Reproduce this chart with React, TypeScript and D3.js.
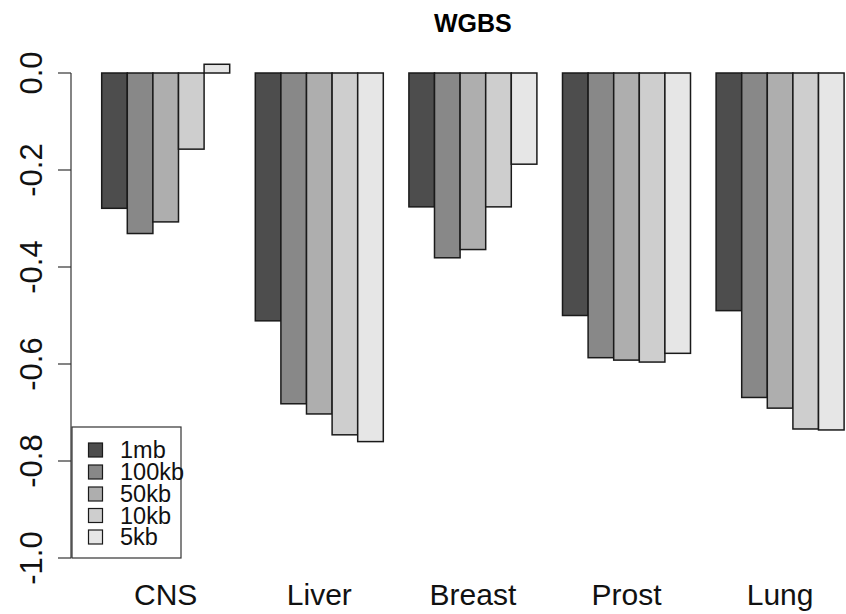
import React from "react";
import * as d3 from "d3";

const title = "WGBS";
const tissues = ["CNS", "Liver", "Breast", "Prost", "Lung"];
const resolutions = ["1mb", "100kb", "50kb", "10kb", "5kb"];
const fills = ["#4D4D4D", "#888888", "#AEAEAE", "#CECECE", "#E6E6E6"];
const v1mb = [-0.279, -0.511, -0.276, -0.5, -0.49];
const v100kb = [-0.331, -0.682, -0.381, -0.587, -0.669];
const v50kb = [-0.307, -0.703, -0.364, -0.592, -0.691];
const v10kb = [-0.157, -0.746, -0.276, -0.596, -0.734];
const v5kb = [0.018, -0.76, -0.188, -0.578, -0.736];
const series = [v1mb, v100kb, v50kb, v10kb, v5kb];
const yTicks = [0, -0.2, -0.4, -0.6, -0.8, -1.0];

const W = 846;
const H = 614;

export default function App() {
  // R barplot units: each group = 1 space + 5 bars
  const x = d3.scaleLinear().domain([-0.16, 31.16]).range([72, 873.8]);
  const y = d3.scaleLinear().domain([0, -1]).range([73, 558]);
  const fontFam = "'Liberation Sans', Arial, Helvetica, sans-serif";

  const bars: any[] = [];
  tissues.forEach((t, gi) => {
    series.forEach((s, si) => {
      const u = gi * 6 + 1 + si;
      const v = s[gi];
      const y0 = y(Math.max(0, v));
      const y1 = y(Math.min(0, v));
      bars.push(
        <rect
          key={`${gi}-${si}`}
          x={x(u)}
          y={y0}
          width={x(u + 1) - x(u)}
          height={y1 - y0}
          fill={fills[si]}
          stroke="#1a1a1a"
          strokeWidth={1.5}
        />
      );
    });
  });

  const legendX = 72;
  const legendY = 427;
  const legendW = 109;
  const legendH = 131;
  const rowY = [450, 472, 494, 515.5, 537];

  return (
    <svg width={W} height={H} style={{ position: "absolute", left: 0, top: 0 }} fontFamily={fontFam}>
      <rect x={0} y={0} width={W} height={H} fill="#fff" />
      <text x={x(15.5)} y={32} textAnchor="middle" fontWeight="bold" fontSize={25} fill="#000">
        {title}
      </text>
      {bars}
      {/* y axis */}
      <line x1={71} x2={71} y1={y(0)} y2={y(-1)} stroke="#333" strokeWidth={1.2} />
      {yTicks.map((t) => (
        <g key={t}>
          <line x1={58} x2={71} y1={y(t)} y2={y(t)} stroke="#333" strokeWidth={1.2} />
          <text
            transform={`translate(42,${y(t)}) rotate(-90)`}
            textAnchor="middle"
            fontSize={31}
            fill="#111"
          >
            {t.toFixed(1)}
          </text>
        </g>
      ))}
      {/* x labels */}
      {tissues.map((t, gi) => (
        <text key={t} x={x(gi * 6 + 3.5)} y={605} textAnchor="middle" fontSize={30} fill="#111">
          {t}
        </text>
      ))}
      {/* legend */}
      <rect x={legendX} y={legendY} width={legendW} height={legendH} fill="#fff" stroke="#333" strokeWidth={1.2} />
      {resolutions.map((r, i) => (
        <g key={r}>
          <rect x={88.5} y={rowY[i] - 7} width={14} height={14} fill={fills[i]} stroke="#1a1a1a" strokeWidth={1.2} />
          <text x={120} y={rowY[i] + 8} fontSize={23.5} fill="#111">
            {r}
          </text>
        </g>
      ))}
    </svg>
  );
}
